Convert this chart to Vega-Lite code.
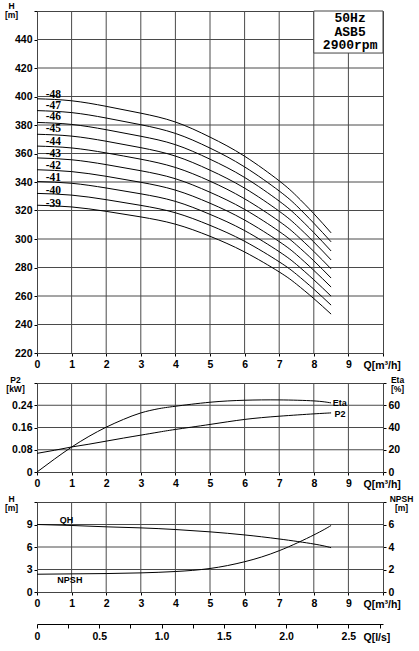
{
  "$schema": "https://vega.github.io/schema/vega-lite/v6.json",
  "autosize": {"type": "pad"},
  "padding": {"left": 3, "top": 0, "right": 0, "bottom": 0},
  "background": "white",
  "config": {
    "view": {"stroke": "#444", "strokeWidth": 1},
    "font": "Liberation Sans",
    "axis": {
      "labelFont": "Liberation Sans", "labelFontWeight": "bold", "labelFontSize": 10.5, "labelColor": "#000",
      "labelOverlap": false, "labelFlush": false, "grid": false,
      "domainColor": "#444", "tickColor": "#000", "tickSize": 3, "labelPadding": 2,
      "titleFont": "Liberation Sans", "titleFontWeight": "bold", "titleFontSize": 8.5, "titleColor": "#000",
      "titleAngle": 0, "titleLineHeight": 9
    },
    "line": {"color": "#000", "strokeWidth": 1, "interpolate": "natural"},
    "rule": {"color": "#4a4a4a", "strokeWidth": 1}
  },
  "datasets": {
    "gridQ": [{"Q": 1}, {"Q": 2}, {"Q": 3}, {"Q": 4}, {"Q": 5}, {"Q": 6}, {"Q": 7}, {"Q": 8}, {"Q": 9}],
    "gridHead": [{"H": 240}, {"H": 260}, {"H": 280}, {"H": 300}, {"H": 320}, {"H": 340}, {"H": 360}, {"H": 380}, {"H": 400}, {"H": 420}, {"H": 440}],
    "gridP2": [{"P2": 0.08}, {"P2": 0.16}, {"P2": 0.24}],
    "gridQH": [{"H": 3}, {"H": 6}, {"H": 9}],
    "head": [
      {"stage": "39", "Q": 0, "H": 323.7}, {"stage": "39", "Q": 1, "H": 322.5}, {"stage": "39", "Q": 2, "H": 319.4}, {"stage": "39", "Q": 3, "H": 315.5}, {"stage": "39", "Q": 4, "H": 310.4}, {"stage": "39", "Q": 5, "H": 301.9}, {"stage": "39", "Q": 6, "H": 290.9}, {"stage": "39", "Q": 7, "H": 276.9}, {"stage": "39", "Q": 7.5, "H": 268.3}, {"stage": "39", "Q": 8, "H": 258.2}, {"stage": "39", "Q": 8.5, "H": 247.3},
      {"stage": "40", "Q": 0, "H": 332.0}, {"stage": "40", "Q": 1, "H": 330.8}, {"stage": "40", "Q": 2, "H": 327.6}, {"stage": "40", "Q": 3, "H": 323.6}, {"stage": "40", "Q": 4, "H": 318.4}, {"stage": "40", "Q": 5, "H": 309.6}, {"stage": "40", "Q": 6, "H": 298.4}, {"stage": "40", "Q": 7, "H": 284.0}, {"stage": "40", "Q": 7.5, "H": 275.2}, {"stage": "40", "Q": 8, "H": 264.8}, {"stage": "40", "Q": 8.5, "H": 253.6},
      {"stage": "41", "Q": 0, "H": 340.3}, {"stage": "41", "Q": 1, "H": 339.1}, {"stage": "41", "Q": 2, "H": 335.8}, {"stage": "41", "Q": 3, "H": 331.7}, {"stage": "41", "Q": 4, "H": 326.4}, {"stage": "41", "Q": 5, "H": 317.3}, {"stage": "41", "Q": 6, "H": 305.9}, {"stage": "41", "Q": 7, "H": 291.1}, {"stage": "41", "Q": 7.5, "H": 282.1}, {"stage": "41", "Q": 8, "H": 271.4}, {"stage": "41", "Q": 8.5, "H": 259.9},
      {"stage": "42", "Q": 0, "H": 348.6}, {"stage": "42", "Q": 1, "H": 347.3}, {"stage": "42", "Q": 2, "H": 344.0}, {"stage": "42", "Q": 3, "H": 339.8}, {"stage": "42", "Q": 4, "H": 334.3}, {"stage": "42", "Q": 5, "H": 325.1}, {"stage": "42", "Q": 6, "H": 313.3}, {"stage": "42", "Q": 7, "H": 298.2}, {"stage": "42", "Q": 7.5, "H": 289.0}, {"stage": "42", "Q": 8, "H": 278.0}, {"stage": "42", "Q": 8.5, "H": 266.3},
      {"stage": "43", "Q": 0, "H": 356.9}, {"stage": "43", "Q": 1, "H": 355.6}, {"stage": "43", "Q": 2, "H": 352.2}, {"stage": "43", "Q": 3, "H": 347.9}, {"stage": "43", "Q": 4, "H": 342.3}, {"stage": "43", "Q": 5, "H": 332.8}, {"stage": "43", "Q": 6, "H": 320.8}, {"stage": "43", "Q": 7, "H": 305.3}, {"stage": "43", "Q": 7.5, "H": 295.8}, {"stage": "43", "Q": 8, "H": 284.7}, {"stage": "43", "Q": 8.5, "H": 272.6},
      {"stage": "44", "Q": 0, "H": 365.2}, {"stage": "44", "Q": 1, "H": 363.9}, {"stage": "44", "Q": 2, "H": 360.4}, {"stage": "44", "Q": 3, "H": 356.0}, {"stage": "44", "Q": 4, "H": 350.2}, {"stage": "44", "Q": 5, "H": 340.6}, {"stage": "44", "Q": 6, "H": 328.2}, {"stage": "44", "Q": 7, "H": 312.4}, {"stage": "44", "Q": 7.5, "H": 302.7}, {"stage": "44", "Q": 8, "H": 291.3}, {"stage": "44", "Q": 8.5, "H": 279.0},
      {"stage": "45", "Q": 0, "H": 373.5}, {"stage": "45", "Q": 1, "H": 372.2}, {"stage": "45", "Q": 2, "H": 368.6}, {"stage": "45", "Q": 3, "H": 364.1}, {"stage": "45", "Q": 4, "H": 358.2}, {"stage": "45", "Q": 5, "H": 348.3}, {"stage": "45", "Q": 6, "H": 335.7}, {"stage": "45", "Q": 7, "H": 319.5}, {"stage": "45", "Q": 7.5, "H": 309.6}, {"stage": "45", "Q": 8, "H": 297.9}, {"stage": "45", "Q": 8.5, "H": 285.3},
      {"stage": "46", "Q": 0, "H": 381.8}, {"stage": "46", "Q": 1, "H": 380.4}, {"stage": "46", "Q": 2, "H": 376.7}, {"stage": "46", "Q": 3, "H": 372.1}, {"stage": "46", "Q": 4, "H": 366.2}, {"stage": "46", "Q": 5, "H": 356.0}, {"stage": "46", "Q": 6, "H": 343.2}, {"stage": "46", "Q": 7, "H": 326.6}, {"stage": "46", "Q": 7.5, "H": 316.5}, {"stage": "46", "Q": 8, "H": 304.5}, {"stage": "46", "Q": 8.5, "H": 291.6},
      {"stage": "47", "Q": 0, "H": 390.1}, {"stage": "47", "Q": 1, "H": 388.7}, {"stage": "47", "Q": 2, "H": 384.9}, {"stage": "47", "Q": 3, "H": 380.2}, {"stage": "47", "Q": 4, "H": 374.1}, {"stage": "47", "Q": 5, "H": 363.8}, {"stage": "47", "Q": 6, "H": 350.6}, {"stage": "47", "Q": 7, "H": 333.7}, {"stage": "47", "Q": 7.5, "H": 323.4}, {"stage": "47", "Q": 8, "H": 311.1}, {"stage": "47", "Q": 8.5, "H": 298.0},
      {"stage": "48", "Q": 0, "H": 398.4}, {"stage": "48", "Q": 1, "H": 397.0}, {"stage": "48", "Q": 2, "H": 393.1}, {"stage": "48", "Q": 3, "H": 388.3}, {"stage": "48", "Q": 4, "H": 382.1}, {"stage": "48", "Q": 5, "H": 371.5}, {"stage": "48", "Q": 6, "H": 358.1}, {"stage": "48", "Q": 7, "H": 340.8}, {"stage": "48", "Q": 7.5, "H": 330.2}, {"stage": "48", "Q": 8, "H": 317.8}, {"stage": "48", "Q": 8.5, "H": 304.3}
    ],
    "stageLabels": [
      {"Q": 0.25, "H": 401.2, "label": "-48"},
      {"Q": 0.25, "H": 393.4, "label": "-47"},
      {"Q": 0.25, "H": 385.4, "label": "-46"},
      {"Q": 0.25, "H": 377.0, "label": "-45"},
      {"Q": 0.25, "H": 368.2, "label": "-44"},
      {"Q": 0.25, "H": 359.3, "label": "-43"},
      {"Q": 0.25, "H": 351.3, "label": "-42"},
      {"Q": 0.25, "H": 342.8, "label": "-41"},
      {"Q": 0.25, "H": 333.4, "label": "-40"},
      {"Q": 0.25, "H": 324.7, "label": "-39"}
    ],
    "box": [{"Q1": 8, "Q2": 10, "H1": 430.5, "H2": 460}],
    "boxText": [
      {"Q": 9.05, "H": 454.8, "text": "50Hz"},
      {"Q": 9.05, "H": 445.3, "text": "ASB5"},
      {"Q": 9.05, "H": 435.8, "text": "2900rpm"}
    ],
    "power": [
      {"Q": 0, "P2": 0.067, "Eta": 0},
      {"Q": 0.5, "P2": 0.078, "Eta": 11.5},
      {"Q": 1, "P2": 0.090, "Eta": 22.4},
      {"Q": 1.5, "P2": 0.100, "Eta": 32.0},
      {"Q": 2, "P2": 0.111, "Eta": 40.3},
      {"Q": 2.5, "P2": 0.122, "Eta": 47.3},
      {"Q": 3, "P2": 0.1325, "Eta": 53.1},
      {"Q": 3.5, "P2": 0.143, "Eta": 56.8},
      {"Q": 4, "P2": 0.153, "Eta": 59.1},
      {"Q": 5, "P2": 0.171, "Eta": 62.7},
      {"Q": 6, "P2": 0.189, "Eta": 64.5},
      {"Q": 7, "P2": 0.2006, "Eta": 64.8},
      {"Q": 8, "P2": 0.209, "Eta": 63.9},
      {"Q": 8.5, "P2": 0.2125, "Eta": 62.1}
    ],
    "p2Label": [{"Q": 8.6, "P2": 0.2085, "name": "P2"}],
    "etaLabel": [{"Q": 8.55, "Eta": 61.6, "name": "Eta"}],
    "bottom": [
      {"Q": 0, "H": 9.0, "NPSH": 1.58},
      {"Q": 1, "H": 8.87, "NPSH": 1.61},
      {"Q": 2, "H": 8.69, "NPSH": 1.64},
      {"Q": 3, "H": 8.55, "NPSH": 1.70},
      {"Q": 4, "H": 8.33, "NPSH": 1.82},
      {"Q": 5, "H": 8.02, "NPSH": 2.09},
      {"Q": 6, "H": 7.61, "NPSH": 2.69},
      {"Q": 7, "H": 7.07, "NPSH": 3.67},
      {"Q": 8, "H": 6.40, "NPSH": 5.07},
      {"Q": 8.5, "H": 5.91, "NPSH": 5.91}
    ],
    "qhLabel": [{"Q": 0.85, "H": 9.6, "name": "QH"}],
    "npshLabel": [{"Q": 0.95, "NPSH": 1.07, "name": "NPSH"}]
  },
  "spacing": 30,
  "bounds": "flush",
  "vconcat": [
    {
      "width": 346,
      "height": 342,
      "encoding": {
        "x": {
          "field": "Q", "type": "quantitative",
          "scale": {"domain": [0, 10], "nice": false},
          "axis": {
            "values": [0, 1, 2, 3, 4, 5, 6, 7, 8, 9, 10], "tickCount": 11, "format": "d",
            "labelExpr": "datum.value == 10 ? '' : datum.label",
            "labelPadding": 3,
            "title": "Q[m³/h]", "titleFontSize": 10.5, "titleAlign": "left", "titleBaseline": "middle",
            "titleX": 326, "titleY": 12
          }
        }
      },
      "layer": [
        {
          "data": {"name": "gridQ"},
          "mark": {"type": "rule"},
          "encoding": {}
        },
        {
          "data": {"name": "gridHead"},
          "mark": {"type": "rule"},
          "encoding": {
            "x": null,
            "y": {"field": "H", "type": "quantitative"}
          }
        },
        {
          "data": {"name": "head"},
          "mark": {"type": "line"},
          "encoding": {
            "y": {
              "field": "H", "type": "quantitative",
              "scale": {"domain": [220, 460], "nice": false, "zero": false},
              "axis": {
                "values": [220, 240, 260, 280, 300, 320, 340, 360, 380, 400, 420, 440, 460], "tickCount": 13, "format": "d",
                "labelExpr": "datum.value == 460 ? '' : datum.label",
                "title": ["H", "[m]"], "titleAlign": "center", "titleBaseline": "top",
                "titleX": -26, "titleY": -10
              }
            },
            "detail": {"field": "stage", "type": "nominal"}
          }
        },
        {
          "data": {"name": "stageLabels"},
          "mark": {"type": "text", "align": "left", "baseline": "middle", "font": "Liberation Serif", "fontWeight": "bold", "fontSize": 11.5},
          "encoding": {
            "y": {"field": "H", "type": "quantitative"},
            "text": {"field": "label", "type": "nominal"}
          }
        },
        {
          "data": {"name": "box"},
          "mark": {"type": "rect", "fill": "white", "stroke": "#444", "strokeWidth": 1},
          "encoding": {
            "x": {"field": "Q1", "type": "quantitative"},
            "x2": {"field": "Q2"},
            "y": {"field": "H1", "type": "quantitative"},
            "y2": {"field": "H2"}
          }
        },
        {
          "data": {"name": "boxText"},
          "mark": {"type": "text", "align": "center", "baseline": "middle", "font": "Liberation Mono", "fontWeight": "bold", "fontSize": 13},
          "encoding": {
            "y": {"field": "H", "type": "quantitative"},
            "text": {"field": "text", "type": "nominal"}
          }
        }
      ]
    },
    {
      "width": 346,
      "height": 89,
      "encoding": {
        "x": {
          "field": "Q", "type": "quantitative",
          "scale": {"domain": [0, 10], "nice": false},
          "axis": {
            "values": [0, 1, 2, 3, 4, 5, 6, 7, 8, 9, 10], "tickCount": 11, "format": "d",
            "labelExpr": "datum.value == 10 ? '' : datum.label",
            "labelPadding": 3,
            "title": "Q[m³/h]", "titleFontSize": 10.5, "titleAlign": "left", "titleBaseline": "middle",
            "titleX": 326, "titleY": 12
          }
        }
      },
      "layer": [
        {
          "layer": [
            {
              "data": {"name": "gridQ"},
              "mark": {"type": "rule"},
              "encoding": {}
            },
            {
              "data": {"name": "gridP2"},
              "mark": {"type": "rule"},
              "encoding": {
                "x": null,
                "y": {"field": "P2", "type": "quantitative"}
              }
            },
            {
              "data": {"name": "power"},
              "mark": {"type": "line"},
              "encoding": {
                "y": {
                  "field": "P2", "type": "quantitative",
                  "scale": {"domain": [0, 0.32], "nice": false},
                  "axis": {
                    "values": [0, 0.08, 0.16, 0.24, 0.32], "tickCount": 5,
                    "labelExpr": "datum.value == 0 ? '0' : (datum.value > 0.3 ? '' : format(datum.value, '.2f'))",
                    "title": ["P2", "[kW]"], "titleAlign": "center", "titleBaseline": "top",
                    "titleX": -22, "titleY": -8
                  }
                }
              }
            },
            {
              "data": {"name": "p2Label"},
              "mark": {"type": "text", "align": "left", "baseline": "middle", "font": "Liberation Sans", "fontWeight": "bold", "fontSize": 9},
              "encoding": {
                "y": {"field": "P2", "type": "quantitative"},
                "text": {"field": "name", "type": "nominal"}
              }
            }
          ]
        },
        {
          "layer": [
            {
              "data": {"name": "power"},
              "mark": {"type": "line"},
              "encoding": {
                "y": {
                  "field": "Eta", "type": "quantitative",
                  "scale": {"domain": [0, 80], "nice": false},
                  "axis": {
                    "orient": "right",
                    "values": [0, 20, 40, 60, 80], "tickCount": 5, "format": "d",
                    "labelExpr": "datum.value == 80 ? '' : datum.label",
                    "title": ["Eta", "[%]"], "titleAlign": "center", "titleBaseline": "top",
                    "titleX": 14, "titleY": -8
                  }
                }
              }
            },
            {
              "data": {"name": "etaLabel"},
              "mark": {"type": "text", "align": "left", "baseline": "middle", "font": "Liberation Sans", "fontWeight": "bold", "fontSize": 9},
              "encoding": {
                "y": {"field": "Eta", "type": "quantitative"},
                "text": {"field": "name", "type": "nominal"}
              }
            }
          ]
        }
      ],
      "resolve": {"scale": {"y": "independent"}}
    },
    {
      "width": 346,
      "height": 90,
      "layer": [
        {
          "encoding": {
            "x": {
              "field": "Q", "type": "quantitative",
              "scale": {"domain": [0, 10], "nice": false},
              "axis": {
                "values": [0, 1, 2, 3, 4, 5, 6, 7, 8, 9, 10], "tickCount": 11, "format": "d",
                "labelExpr": "datum.value == 10 ? '' : datum.label",
                "labelPadding": 3,
                "title": "Q[m³/h]", "titleFontSize": 10.5, "titleAlign": "left", "titleBaseline": "middle",
                "titleX": 326, "titleY": 12
              }
            }
          },
          "layer": [
            {
              "data": {"name": "gridQ"},
              "mark": {"type": "rule"},
              "encoding": {}
            },
            {
              "data": {"name": "gridQH"},
              "mark": {"type": "rule"},
              "encoding": {
                "x": null,
                "y": {"field": "H", "type": "quantitative"}
              }
            },
            {
              "data": {"name": "bottom"},
              "mark": {"type": "line"},
              "encoding": {
                "y": {
                  "field": "H", "type": "quantitative",
                  "scale": {"domain": [0, 12], "nice": false},
                  "axis": {
                    "values": [0, 3, 6, 9, 12], "tickCount": 5, "format": "d",
                    "labelExpr": "datum.value == 12 ? '' : datum.label",
                    "title": ["H", "[m]"], "titleAlign": "center", "titleBaseline": "top",
                    "titleX": -26, "titleY": -8
                  }
                }
              }
            },
            {
              "data": {"name": "qhLabel"},
              "mark": {"type": "text", "align": "center", "baseline": "middle", "font": "Liberation Sans", "fontWeight": "bold", "fontSize": 9},
              "encoding": {
                "y": {"field": "H", "type": "quantitative"},
                "text": {"field": "name", "type": "nominal"}
              }
            }
          ]
        },
        {
          "encoding": {
            "x": {
              "field": "Q", "type": "quantitative",
              "scale": {"domain": [0, 10], "nice": false},
              "axis": {
                "orient": "bottom", "offset": 32,
                "domainColor": "#000", "tickSize": 4,
                "values": [0, 0.9, 1.8, 2.7, 3.6, 4.5, 5.4, 6.3, 7.2, 8.1, 9.0, 9.9], "tickCount": 12,
                "labelExpr": "datum.value == 0 ? '0' : (round(datum.value * 10) % 18 == 0 ? format(datum.value / 3.6, '.1f') : '')",
                "labelPadding": 3,
                "title": "Q[l/s]", "titleFontSize": 10.5, "titleAlign": "left", "titleBaseline": "middle",
                "titleX": 326, "titleY": 13
              }
            }
          },
          "layer": [
            {
              "data": {"name": "bottom"},
              "mark": {"type": "line"},
              "encoding": {
                "y": {
                  "field": "NPSH", "type": "quantitative",
                  "scale": {"domain": [0, 8], "nice": false},
                  "axis": {
                    "orient": "right",
                    "values": [0, 2, 4, 6, 8], "tickCount": 5, "format": "d",
                    "labelExpr": "datum.value == 8 ? '' : datum.label",
                    "title": ["NPSH", "[m]"], "titleAlign": "center", "titleBaseline": "top",
                    "titleX": 18, "titleY": -8
                  }
                }
              }
            },
            {
              "data": {"name": "npshLabel"},
              "mark": {"type": "text", "align": "center", "baseline": "middle", "font": "Liberation Sans", "fontWeight": "bold", "fontSize": 9},
              "encoding": {
                "y": {"field": "NPSH", "type": "quantitative"},
                "text": {"field": "name", "type": "nominal"}
              }
            }
          ]
        }
      ],
      "resolve": {"scale": {"y": "independent"}, "axis": {"x": "independent"}}
    }
  ]
}
